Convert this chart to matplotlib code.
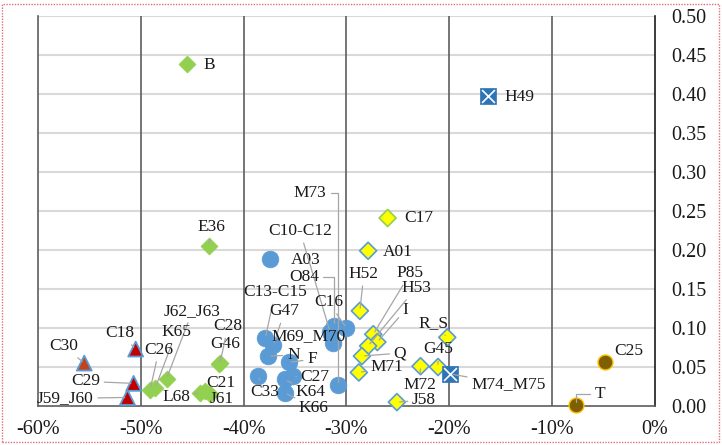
import matplotlib
matplotlib.use("Agg")
import matplotlib.pyplot as plt
from matplotlib.patches import Rectangle

# ---- data (x in %, y as ratio) ----
tri_names = ["C30", "C18", "C29", "J59_J60"]
tri_x = [-55.5, -50.5, -50.7, -51.3]
tri_y = [0.055, 0.073, 0.029, 0.011]

green_names = ["B", "E36", "G46", "C28", "J62_J63", "K65", "C26", "L68", "C21", "J61"]
green_x = [-45.5, -43.4, -42.4, -42.3, -47.5, -48.6, -49.1, -44.2, -43.8, -43.3]
green_y = [0.438, 0.205, 0.054, 0.055, 0.035, 0.023, 0.021, 0.017, 0.019, 0.015]

blue_names = ["A03", "C13-C15", "G47", "N", "F", "C33", "K64", "C27", "K66",
              "M73", "C10-C12", "O84", "C16", "M69_M70"]
blue_x = [-37.4, -37.9, -37.1, -37.6, -35.6, -38.6, -36.0, -35.2, -36.0,
          -30.8, -31.6, -31.2, -30.0, -31.3]
blue_y = [0.189, 0.087, 0.078, 0.064, 0.056, 0.039, 0.034, 0.038, 0.017,
          0.027, 0.095, 0.103, 0.100, 0.081]

yel_names = ["C17", "A01", "H52", "P85", "I", "H53", "Q", "M71", "R_S", "G45", "M72", "J58"]
yel_x = [-26.0, -27.9, -28.7, -27.4, -27.0, -27.9, -28.5, -28.8, -20.2, -21.1, -22.8, -25.1]
yel_y = [0.241, 0.199, 0.122, 0.092, 0.082, 0.077, 0.064, 0.043, 0.088, 0.050, 0.051, 0.005]

sq_names = ["H49", "M74_M75"]
sq_x = [-16.2, -19.9]
sq_y = [0.397, 0.041]

brown_names = ["C25", "T"]
brown_x = [-4.9, -7.7]
brown_y = [0.056, 0.001]

x_ticks = [-60, -50, -40, -30, -20, -10, 0]
y_ticks = [0.00, 0.05, 0.10, 0.15, 0.20, 0.25, 0.30, 0.35, 0.40, 0.45, 0.50]

# ---- label placement: offset of label centre from its point, in pixels ----
# third item: leader style (None = no leader, "line", "elbow")
LABELS = {
    "B": (22, -1, None), "H49": (31, -1, None), "C17": (31, 0, None),
    "A01": (30, -1, None), "A03": (35, -1, None), "C25": (24, 11, None),
    "C21": (16, 8, None), "J61": (12, -5, None), "M69_M70": (-25, 7, None),
    "E36": (3, 19, "line"), "C30": (-21, 17, "line"), "C18": (-16, 16, "line"),
    "C26": (9, 40, "line"), "C29": (-48, 2, "line"), "J59_J60": (-62, -1, "line"),
    "J62_J63": (26, 68, "line"), "K65": (21, 56, "line"), "C28": (8, 37, "line"),
    "G46": (6, 20, "line"), "L68": (-24, -4, "line"),
    "M73": (-28, 192, "elbow"), "C10-C12": (-30, 101, "line"), "O84": (-30, 49, "elbow"),
    "C16": (-18, 26, "line"), "C13-C15": (10, 46, "line"), "G47": (11, 34, "line"),
    "N": (25, 1, "line"), "F": (23, 3, "line"), "C27": (22, -1, "line"),
    "K64": (26, -13, "line"), "C33": (7, -16, "line"), "K66": (29, -15, "line"),
    "H52": (4, 37, "line"), "P85": (37, 61, "line"), "H53": (48, 58, "line"),
    "I": (28, 32, "line"), "Q": (38, 3, "line"), "M71": (28, 5, "line"),
    "R_S": (-14, 14, "line"), "G45": (0, 18, "line"), "M72": (-1, -19, "line"),
    "J58": (27, 2, "line"), "M74_M75": (58, -10, "line"), "T": (24, 11, "elbow"),
}

plt.rcParams["font.family"] = ["Liberation Serif", "DejaVu Serif"]

fig = plt.figure(figsize=(7.22, 4.45), dpi=100)
ax = fig.add_axes([38 / 722, 1 - 406 / 445, 617 / 722, 390 / 445])
ax.set_xlim(-60, 0)
ax.set_ylim(0, 0.5)

for yv in y_ticks[1:]:
    ax.axhline(yv, color="#d9d9d9", lw=1.5, zorder=1)
for xv in x_ticks[1:-1]:
    ax.axvline(xv, color="#5e5e5e", lw=1.2, zorder=1.5)

for side in ["left", "bottom"]:
    ax.spines[side].set_color("#5e5e5e")
    ax.spines[side].set_linewidth(1.2)
ax.spines["right"].set_color("#1a1a1a")
ax.spines["right"].set_linewidth(1.2)
ax.spines["top"].set_visible(False)

ax.set_xticks(x_ticks)
ax.set_xticklabels([f"{v}%" for v in x_ticks])
ax.yaxis.tick_right()
ax.set_yticks(y_ticks)
ax.set_yticklabels([f"{v:.2f}" for v in y_ticks])
ax.tick_params(axis="x", length=0, pad=10, labelsize=14.5, colors="#1a1a1a")
ax.tick_params(axis="y", length=0, pad=12, labelsize=14.5, colors="#1a1a1a")

# ---- series ----
tri_fill = ["#c0441c", "#c00000", "#c00000", "#c00000"]
ax.scatter(tri_x, tri_y, s=115, marker="^", c=tri_fill, edgecolors="#5b9bd5",
           linewidths=1.3, zorder=3, clip_on=False)
ax.scatter(green_x, green_y, s=75, marker="D", c="#92d050", edgecolors="#92d050",
           linewidths=0.5, zorder=3, clip_on=False)
ax.scatter(blue_x, blue_y, s=145, marker="o", c="#5b9bd5", edgecolors="#5b9bd5",
           linewidths=0.5, zorder=3, clip_on=False)
yel_edge = ["#92d050"] + ["#5b9bd5"] * (len(yel_x) - 1)
ax.scatter(yel_x, yel_y, s=75, marker="D", c="#ffff00", edgecolors=yel_edge,
           linewidths=1.2, zorder=3, clip_on=False)
ax.scatter(sq_x, sq_y, s=125, marker="s", c="#2e75b6", edgecolors="#2e75b6",
           linewidths=0.5, zorder=3, clip_on=False)
ax.scatter(sq_x, sq_y, s=85, marker="x", c="white", linewidths=1.2, zorder=4, clip_on=False)
ax.scatter(brown_x, brown_y, s=115, marker="o", c="#7f6000", edgecolors="#ffc000",
           linewidths=1.0, zorder=3, clip_on=False)

# ---- labels ----
all_pts = []
for names, xs, ys in [(tri_names, tri_x, tri_y), (green_names, green_x, green_y),
                      (blue_names, blue_x, blue_y), (yel_names, yel_x, yel_y),
                      (sq_names, sq_x, sq_y), (brown_names, brown_x, brown_y)]:
    all_pts += list(zip(names, xs, ys))

for name, xv, yv in all_pts:
    dx, dy, leader = LABELS[name]
    props = None
    if leader == "line":
        props = dict(arrowstyle="-", color="#a6a6a6", lw=0.9, shrinkA=1, shrinkB=2)
    elif leader == "elbow":
        props = dict(arrowstyle="-", color="#a6a6a6", lw=0.9, shrinkA=1, shrinkB=2,
                     connectionstyle="angle,angleA=0,angleB=90,rad=0")
    ax.annotate(name, (xv, yv), xytext=(dx, dy), textcoords="offset pixels",
                ha="center", va="center", fontsize=12.5, color="#1a1a1a",
                arrowprops=props, zorder=5, annotation_clip=False)

# dotted frame round the picture
fig.patches.append(Rectangle((2 / 722, 3 / 445), 717 / 722, 438 / 445,
                             transform=fig.transFigure, fill=False,
                             edgecolor="#e0707a", lw=1.0, ls=(0, (1, 1))))

fig.savefig("out.png", dpi=100)
